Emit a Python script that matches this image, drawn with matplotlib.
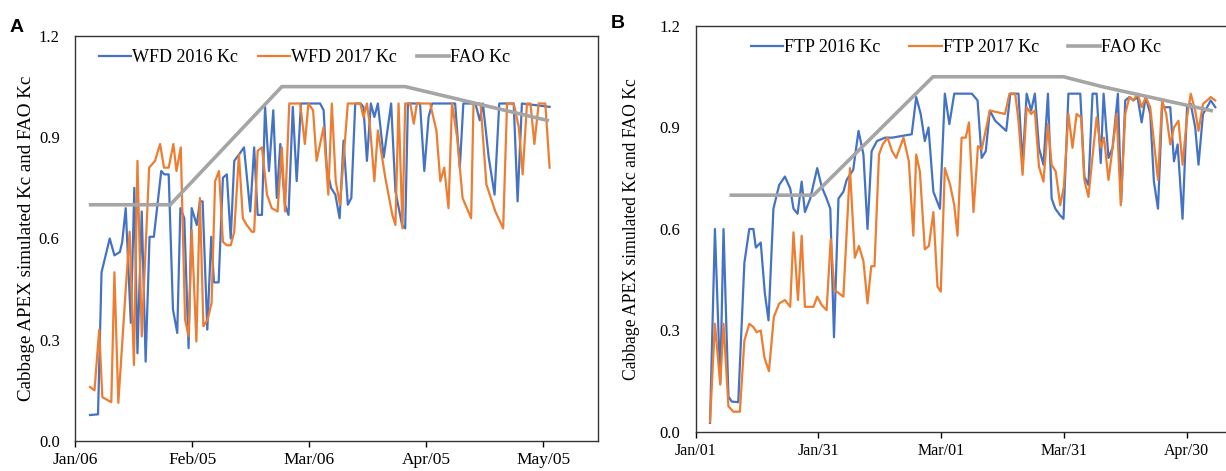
import numpy as np
import matplotlib
matplotlib.use("Agg")
import matplotlib.pyplot as plt

plt.rcParams["font.family"] = ["Liberation Serif", "DejaVu Serif"]

BLUE, ORANGE, GRAY = "#4472C4", "#ED7D31", "#A5A5A5"

# ---------------------------------------------------------------------------
# Panel A (WFD) - days counted from Jan/06
# ---------------------------------------------------------------------------
a_ticks = [0, 30, 60, 90, 120]
a_labels = ["Jan/06", "Feb/05", "Mar/06", "Apr/05", "May/05"]

a16_day = [3.85, 5.9, 6.8, 8.9, 10.1, 11.5, 12.1, 13.0, 14.3, 15.2, 16.0, 17.1, 18.1,
           19.1, 20.2, 22.1, 22.9, 24.0, 25.1, 26.2, 27.0, 28.0, 29.1, 29.9, 31.2,
           32.0, 32.7, 33.9, 34.9, 35.6, 36.8, 37.9, 38.9, 39.9, 40.8, 42.1, 43.3,
           44.9, 45.9, 46.8, 47.9, 48.7, 49.7, 50.8, 51.7, 52.6, 53.8, 54.7, 55.8,
           56.8, 57.9, 61.5, 62.8, 63.7, 64.5, 65.6, 66.7, 67.8, 68.8, 69.9, 70.8,
           71.8, 73.2, 73.9, 74.8, 75.8, 76.7, 77.6, 79.1, 81.0, 82.1, 83.8, 84.6,
           85.3, 88.4, 89.5, 90.6, 91.5, 97.4, 98.6, 99.5, 102.6, 103.7, 104.5,
           106.0, 107.5, 108.7, 112.4, 113.4, 114.5, 121.6]
a16_kc = [0.077, 0.079, 0.50, 0.60, 0.55, 0.56, 0.59, 0.69, 0.35, 0.75, 0.26, 0.68, 0.235,
          0.605, 0.605, 0.80, 0.79, 0.79, 0.39, 0.32, 0.69, 0.66, 0.275, 0.69, 0.64,
          0.71, 0.71, 0.33, 0.605, 0.47, 0.47, 0.78, 0.79, 0.60, 0.83, 0.85, 0.87,
          0.68, 0.87, 0.67, 0.67, 0.99, 0.80, 0.98, 0.72, 0.88, 0.70, 0.67, 0.99,
          0.77, 1.0, 1.0, 1.0, 0.98, 0.81, 0.75, 0.73, 0.66, 0.89, 0.70, 0.72,
          1.0, 1.0, 0.99, 0.83, 1.0, 0.96, 1.0, 0.84, 1.0, 0.74, 0.64, 0.63,
          1.0, 1.0, 0.80, 0.96, 1.0, 1.0, 0.81, 1.0, 1.0, 0.95, 1.0,
          0.84, 0.73, 1.0, 1.0, 0.71, 1.0, 0.99]

a17_day = [3.85, 5.0, 6.2, 7.0, 9.3, 10.1, 11.1, 13.0, 14.0, 15.1, 16.0, 17.1, 19.0,
           20.5, 21.8, 22.8, 24.0, 25.2, 26.0, 27.1, 28.2, 29.1, 29.9, 31.1, 32.0,
           32.9, 34.0, 35.0, 35.9, 36.9, 37.9, 38.9, 39.9, 40.8, 42.0, 43.0, 44.0,
           45.3, 45.9, 46.8, 47.9, 49.2, 50.4, 51.9, 53.0, 53.8, 54.9, 57.7, 58.9,
           59.8, 61.0, 61.9, 63.7, 64.9, 65.8, 66.8, 67.9, 69.9, 73.1, 73.9, 74.8,
           75.6, 76.7, 77.6, 79.5, 81.3, 82.1, 82.9, 83.9, 84.6, 85.9, 86.8, 87.6,
           91.0, 92.6, 93.6, 94.6, 95.7, 96.6, 97.9, 99.3, 101.5, 102.1, 103.9, 105.4,
           107.7, 109.7, 110.7, 112.4, 113.7, 114.7, 115.8, 116.7, 117.7, 118.8,
           120.5, 121.6]
a17_kc = [0.16, 0.15, 0.33, 0.13, 0.115, 0.50, 0.113, 0.45, 0.62, 0.225, 0.83, 0.31, 0.81,
          0.83, 0.88, 0.81, 0.81, 0.88, 0.80, 0.87, 0.36, 0.31, 0.625, 0.295, 0.72,
          0.34, 0.36, 0.41, 0.77, 0.80, 0.59, 0.58, 0.58, 0.62, 0.85, 0.66, 0.64,
          0.62, 0.62, 0.86, 0.87, 0.73, 0.69, 0.68, 0.87, 0.68, 1.0, 1.0, 0.88,
          1.0, 0.98, 0.83, 0.93, 0.73, 1.0, 0.77, 0.70, 1.0, 1.0, 0.96, 1.0,
          0.93, 0.77, 0.92, 0.78, 0.67, 0.64, 1.0, 0.63, 1.0, 1.0, 0.94, 1.0,
          1.0, 0.92, 0.77, 0.81, 0.69, 1.0, 0.90, 0.72, 0.66, 1.0, 1.0, 0.76,
          0.68, 0.63, 1.0, 1.0, 0.93, 0.79, 1.0, 1.0, 0.88, 1.0,
          1.0, 0.81]

a_fao_day = [4, 24.4, 53, 84.6, 121]
a_fao_kc = [0.7, 0.7, 1.05, 1.05, 0.95]

# ---------------------------------------------------------------------------
# Panel B (FTP) - days counted from Jan/01
# ---------------------------------------------------------------------------
b_ticks = [0, 30, 60, 90, 120]
b_labels = ["Jan/01", "Jan/31", "Mar/01", "Mar/31", "Apr/30"]

b16_day = [3.5, 4.7, 6.0, 6.8, 8.0, 8.8, 10.4, 11.9, 13.1, 14.1, 14.7, 15.9, 16.9, 17.8,
           19.0, 20.4, 21.8, 23.1, 23.9, 24.9, 25.9, 26.7, 28.0, 29.7, 30.8, 32.0,
           32.9, 33.8, 34.9, 36.1, 36.9, 38.5, 39.8, 41.0, 42.0, 43.0, 44.3, 46.3,
           48.0, 50.4, 52.8, 53.9, 55.0, 56.0, 56.9, 58.1, 59.7, 60.9, 62.0, 63.2,
           67.5, 68.9, 69.9, 70.9, 71.9, 73.2, 75.9, 76.9, 78.9, 79.9, 80.9, 82.0,
           82.9, 83.9, 85.0, 86.1, 87.0, 87.9, 89.1, 89.9, 91.1, 94.0, 95.0, 96.0,
           97.0, 98.0, 99.0, 99.7, 100.9, 101.9, 103.2, 104.0, 105.0, 106.0, 107.0,
           108.0, 109.0, 110.0, 111.1, 112.0, 113.0, 114.0, 116.0, 116.9, 117.8,
           119.0, 120.1, 121.0, 122.1, 122.9, 124.0, 125.0, 125.9, 127.0]
b16_kc = [0.027, 0.60, 0.145, 0.60, 0.105, 0.09, 0.088, 0.50, 0.60, 0.60, 0.545, 0.56, 0.41, 0.33,
          0.66, 0.73, 0.755, 0.72, 0.66, 0.645, 0.74, 0.65, 0.69, 0.78, 0.725, 0.69,
          0.66, 0.28, 0.69, 0.71, 0.745, 0.775, 0.89, 0.82, 0.60, 0.83, 0.86, 0.87,
          0.87, 0.875, 0.88, 0.99, 0.94, 0.86, 0.90, 0.71, 0.66, 1.0, 0.91, 1.0,
          1.0, 0.98, 0.81, 0.83, 0.95, 0.92, 0.89, 1.0, 1.0, 0.79, 1.0, 0.95,
          1.0, 0.84, 0.79, 1.0, 0.69, 0.66, 0.64, 0.63, 1.0, 1.0, 0.755, 0.73,
          1.0, 1.0, 0.795, 1.0, 0.81, 0.84, 1.0, 0.68, 0.98, 0.99, 0.98,
          0.99, 0.915, 0.99, 0.94, 0.74, 0.66, 0.96, 0.96, 0.80, 0.85,
          0.63, 0.96, 0.97, 0.90, 0.79, 0.94, 0.96, 0.98, 0.96]

b17_day = [3.5, 4.7, 6.0, 6.8, 8.0, 9.2, 10.8, 11.9, 13.1, 14.1, 14.9, 15.9, 16.8, 17.9,
           19.1, 20.4, 21.8, 23.1, 23.9, 25.0, 25.9, 26.7, 27.7, 28.8, 29.7, 30.8,
           32.0, 33.0, 33.9, 36.1, 37.7, 38.9, 39.9, 41.0, 42.0, 42.9, 43.7, 44.8,
           45.7, 46.9, 48.0, 49.0, 50.8, 52.1, 53.2, 53.9, 54.8, 56.0, 57.0, 58.1,
           59.1, 59.9, 60.9, 62.2, 63.2, 64.0, 65.0, 66.0, 66.8, 67.9, 69.0, 69.9,
           71.9, 75.6, 76.7, 78.1, 78.9, 79.9, 80.9, 82.0, 82.9, 83.9, 85.0, 86.1,
           87.0, 88.0, 89.1, 90.0, 91.1, 92.1, 93.1, 94.2, 95.0, 96.0, 97.0, 98.0,
           99.0, 99.8, 100.9, 101.9, 102.9, 103.9, 105.0, 106.0, 107.0, 108.0, 109.0,
           110.0, 111.1, 113.0, 114.0, 115.0, 116.0, 116.9, 118.0, 119.0, 120.1,
           121.0, 122.1, 122.9, 124.0, 125.0, 125.9, 127.0]
b17_kc = [0.03, 0.32, 0.14, 0.32, 0.076, 0.06, 0.06, 0.27, 0.32, 0.31, 0.295, 0.30, 0.22, 0.18,
          0.34, 0.38, 0.39, 0.37, 0.59, 0.39, 0.58, 0.37, 0.37, 0.37, 0.40, 0.375,
          0.36, 0.57, 0.42, 0.40, 0.78, 0.515, 0.55, 0.505, 0.38, 0.49, 0.49, 0.82,
          0.85, 0.87, 0.83, 0.81, 0.87, 0.80, 0.58, 0.82, 0.77, 0.54, 0.55, 0.65,
          0.43, 0.415, 0.78, 0.73, 0.67, 0.58, 0.87, 0.87, 0.915, 0.65, 0.845, 0.835,
          0.95, 0.94, 1.0, 1.0, 0.92, 0.76, 0.96, 0.94, 0.95, 0.785, 0.74, 0.91,
          0.79, 0.77, 0.67, 0.725, 0.94, 0.84, 0.94, 0.93, 0.745, 0.695, 0.815, 0.93,
          0.84, 0.87, 0.745, 0.84, 0.94, 0.67, 0.94, 0.99, 0.98, 1.0, 0.96,
          0.99, 0.96, 0.745, 0.98, 0.94, 0.85, 0.90, 0.92, 0.79, 0.93,
          1.0, 0.95, 0.89, 0.97, 0.98, 0.99, 0.98]

b_fao_day = [8.7, 28.8, 58, 89.9, 99.6, 126]
b_fao_kc = [0.7, 0.7, 1.05, 1.05, 1.02, 0.95]

yticks = [0.0, 0.3, 0.6, 0.9, 1.2]

W, H = 1226, 471
fig = plt.figure(figsize=(W / 100, H / 100), dpi=100)
axA = fig.add_axes([75 / W, 30 / H, 523 / W, 405 / H])
axB = fig.add_axes([695.7 / W, 39 / H, 534.3 / W, 406 / H])


def style(ax, ticks, labels, xmax, names, d16, k16, d17, k17, dfao, kfao,
          leg_x, colsp, fs_x, fs_leg, fs_ylab, ylab_pad):
    l1, = ax.plot(d16, k16, color=BLUE, lw=1.6, label=names[0])
    l2, = ax.plot(d17, k17, color=ORANGE, lw=1.6, label=names[1])
    l3, = ax.plot(dfao, kfao, color=GRAY, lw=2.6, label=names[2])
    ax.set_xlim(0, xmax)
    ax.set_ylim(0, 1.2)
    ax.set_xticks(ticks)
    ax.set_xticklabels(labels)
    ax.set_yticks(yticks)
    ax.set_yticklabels([f"{v:.1f}" for v in yticks])
    ax.tick_params(axis="y", length=0, pad=11, labelsize=12)
    ax.tick_params(axis="x", length=4, width=1, direction="out", pad=4, labelsize=fs_x)
    for s in ax.spines.values():
        s.set_color("#333333")
        s.set_linewidth(1)
    ax.set_ylabel("Cabbage APEX simulated Kc and FAO Kc", fontsize=fs_ylab, labelpad=ylab_pad)
    ax.legend(handles=[l1, l2, l3], loc="center left", bbox_to_anchor=(leg_x, 0.946),
              ncol=3, frameon=False, fontsize=fs_leg, handlelength=1.8, handletextpad=0.05,
              columnspacing=colsp, borderpad=0, borderaxespad=0)


style(axA, a_ticks, a_labels, 134,
      ["WFD 2016 Kc", "WFD 2017 Kc", "FAO Kc"],
      a16_day, a16_kc, a17_day, a17_kc, a_fao_day, a_fao_kc,
      0.045, 1.1, 12.5, 13, 13.7, 2.5)
style(axB, b_ticks, b_labels, 130.6,
      ["FTP 2016 Kc", "FTP 2017 Kc", "FAO Kc"],
      b16_day, b16_kc, b17_day, b17_kc, b_fao_day, b_fao_kc,
      0.103, 1.6, 11.5, 13, 12.7, 14)

fig.text(10 / W, 1 - 27 / H, "A", fontsize=14, fontweight="bold",
         family=["Liberation Sans", "DejaVu Sans"], va="center")
fig.text(611 / W, 1 - 24 / H, "B", fontsize=14, fontweight="bold",
         family=["Liberation Sans", "DejaVu Sans"], va="center")

fig.savefig("out.png", dpi=100)
